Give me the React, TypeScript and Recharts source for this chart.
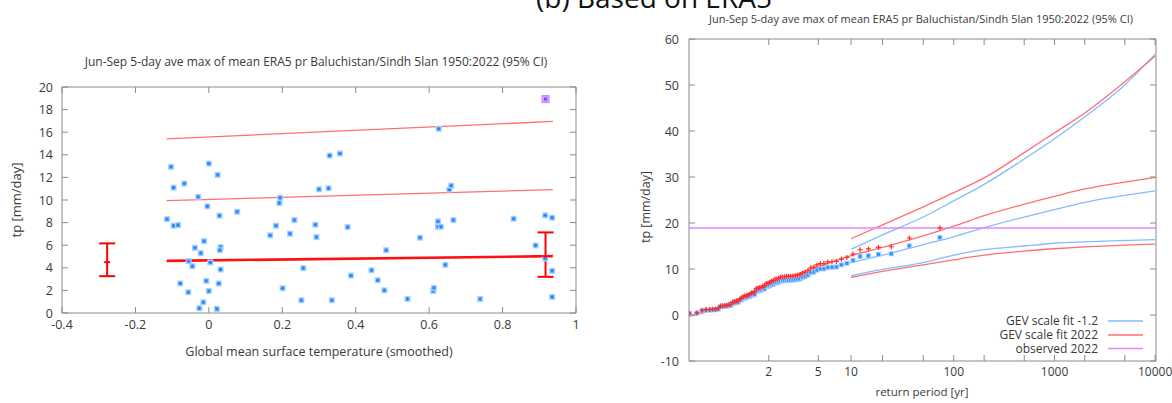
import React from 'react';
import { ComposedChart, Scatter, Line, XAxis, YAxis, ErrorBar, ReferenceLine } from 'recharts';

const FONT = '"Open Sans", "Noto Sans", Arial, sans-serif';
const BORDER = '#8a8a8a';
const INK = '#3a3a3a';

// ---------------- Left panel: covariate plot ----------------
const gmstX = [
  -0.114, -0.103, -0.096, -0.096, -0.084, -0.067, -0.029, 0.0, -0.004, 0.024, 0.029, 0.077,
  -0.013, -0.038, -0.022, 0.032, 0.03, -0.055, -0.045, 0.004, 0.032, -0.078, -0.056, -0.007,
  0.0, 0.027, -0.015, -0.026, 0.022, 0.167, 0.183, 0.194, 0.192, 0.201, 0.221, 0.233,
  0.257, 0.252, 0.29, 0.293, 0.3, 0.326, 0.329, 0.357, 0.335, 0.378, 0.387, 0.443,
  0.46, 0.478, 0.483, 0.541, 0.575, 0.611, 0.613, 0.624, 0.632, 0.624, 0.626, 0.644,
  0.655, 0.66, 0.666, 0.739, 0.83, 0.89, 0.916, 0.916, 0.935, 0.935, 0.935,
];
const prY = [
  8.31, 12.93, 11.09, 7.72, 7.78, 11.45, 10.27, 13.22, 9.44, 12.22, 8.61, 8.96,
  6.36, 5.77, 5.3, 5.83, 5.56, 4.59, 4.14, 4.47, 3.85, 2.61, 1.84, 2.84,
  1.95, 2.61, 0.95, 0.42, 0.36, 6.87, 7.72, 10.2, 9.73, 2.19, 7.01, 8.22,
  3.97, 1.13, 7.81, 6.72, 10.95, 11.04, 13.93, 14.11, 1.13, 7.6, 3.31, 3.79,
  2.9, 2.01, 5.56, 1.24, 6.66, 1.95, 2.22, 7.63, 7.63, 8.11, 16.3, 4.26,
  10.92, 11.27, 8.22, 1.24, 8.34, 5.98, 8.64, 4.83, 8.43, 3.73, 1.42,
];
const obs2022X = [0.917];
const obs2022Y = [18.93];

const fitLineX = [-0.115, 0.937];
const fitMean = [4.61, 5.03];
const fitMid = [9.94, 10.92];
const fitTop = [15.41, 16.95];

const errX = [-0.277, 0.917];
const errMid = [4.5, 5.03];
const errLow = [3.26, 3.2];
const errHigh = [6.16, 7.13];

const leftXTicks = [-0.4, -0.2, 0, 0.2, 0.4, 0.6, 0.8, 1];
const leftYTicks = [0, 2, 4, 6, 8, 10, 12, 14, 16, 18, 20];

// ---------------- Right panel: return period plot ----------------
const obs2022Value = 18.93;
const ppClim2022 = [
  0.39, 0.46, 1.03, 1.19, 1.2, 1.26, 1.28, 1.42, 2.0, 2.01,
  2.09, 2.12, 2.28, 2.34, 2.83, 2.86, 3.02, 3.09, 3.47, 3.73,
  3.96, 4.17, 4.21, 4.37, 4.52, 4.83, 4.85, 5.01, 5.77, 5.78,
  6.0, 6.02, 6.29, 6.31, 6.87, 6.92, 7.11, 7.35, 7.47, 7.83,
  7.84, 7.98, 8.25, 8.26, 8.33, 8.41, 8.41, 8.42, 8.46, 8.52,
  8.64, 8.81, 9.12, 9.33, 9.67, 10.26, 10.39, 10.89, 11.18, 11.18,
  11.54, 11.58, 11.65, 12.15, 12.51, 13.25, 14.18, 14.36, 14.69, 14.84,
  16.74, 18.93,
];
const ppClimCool = [
  0.35, 0.41, 0.93, 1.07, 1.08, 1.13, 1.15, 1.27, 1.8, 1.8,
  1.88, 1.9, 2.05, 2.1, 2.54, 2.56, 2.71, 2.77, 3.12, 3.34,
  3.55, 3.74, 3.78, 3.92, 4.05, 4.34, 4.36, 4.5, 5.18, 5.19,
  5.38, 5.4, 5.64, 5.67, 6.17, 6.21, 6.38, 6.6, 6.7, 7.03,
  7.03, 7.16, 7.4, 7.42, 7.48, 7.55, 7.55, 7.55, 7.59, 7.64,
  7.76, 7.85, 8.19, 8.37, 8.68, 9.21, 9.33, 9.77, 10.04, 10.04,
  10.36, 10.39, 10.45, 10.91, 11.23, 11.89, 12.73, 12.89, 13.19, 13.32,
  15.03, 16.85,
];

const fitT = [1.0136, 1.1, 1.25, 1.5, 2, 3, 5, 10, 20, 50, 100, 200, 500, 1000, 2000, 5000, 10000];
const fit2022Central = [-0.3, 1.3, 2.9, 4.6, 6.6, 8.5, 10.5, 12.9, 14.7, 17.2, 19.3, 21.6, 24.1, 25.8, 27.4, 28.9, 29.9];
const fitCoolCentral = [-0.2, 1.2, 2.6, 4.2, 6.0, 7.7, 9.6, 11.4, 13.0, 15.3, 17.0, 19.0, 21.3, 22.9, 24.5, 26.0, 27.0];

const ciT = [10, 20, 50, 100, 200, 500, 1000, 2000, 5000, 10000];
const fit2022Upper = [16.6, 19.6, 23.5, 26.6, 29.8, 35.3, 39.6, 43.9, 50.7, 56.3];
const fitCoolUpper = [14.3, 17.4, 21.3, 24.8, 28.4, 33.9, 38.3, 43.1, 50.0, 56.7];
const fit2022Lower = [8.2, 9.5, 10.9, 12.0, 13.0, 13.9, 14.4, 14.8, 15.2, 15.4];
const fitCoolLower = [8.55, 9.9, 11.4, 13.0, 14.2, 15.0, 15.6, 15.9, 16.2, 16.4];

const rpTicks = [2, 5, 10, 20, 50, 100, 200, 500, 1000, 2000, 5000, 10000];
const rpLabeled = [2, 5, 10, 100, 1000, 10000];
const rightYTicks = [-10, 0, 10, 20, 30, 40, 50, 60];

const legendLabels = ['GEV scale fit -1.2', 'GEV scale fit 2022', 'observed 2022'];

// ---------------- colours ----------------
const BLUE_PT = '#2f8fff';
const BLUE_LINE = '#84bcff';
const RED_PT = '#ff2a2a';
const RED_LINE = '#ff6f6f';
const MAGENTA = '#e486ff';
const legendColors = [BLUE_LINE, RED_LINE, MAGENTA];

// Gumbel reduced variate (x axis of a return-period plot)
const gumbel = (T: number) => -Math.log(-Math.log(1 - 1 / T));

// ---------------- derived tables ----------------
const leftPoints = gmstX.map((x, i) => ({ x, y: prY[i] }));
const leftObs2022 = obs2022X.map((x, i) => ({ x, y: obs2022Y[i] }));
const meanLine = fitLineX.map((x, i) => ({ x, y: fitMean[i] }));
const midLine = fitLineX.map((x, i) => ({ x, y: fitMid[i] }));
const topLine = fitLineX.map((x, i) => ({ x, y: fitTop[i] }));
const errData = errX.map((x, i) => ({ x, y: errMid[i], err: [errMid[i] - errLow[i], errHigh[i] - errMid[i]] }));

const nObs = ppClim2022.length;
const redPts = ppClim2022.map((v, i) => ({ g: gumbel((nObs + 1) / (nObs - i)), v }));
const bluePts = ppClimCool.map((v, i) => ({ g: gumbel((nObs + 1) / (nObs - i)), v }));
const toLine = (ts: number[], vs: number[]) => ts.map((t, i) => ({ g: gumbel(t), v: vs[i] }));
const redCentral = toLine(fitT, fit2022Central);
const blueCentral = toLine(fitT, fitCoolCentral);
const redUpper = toLine(ciT, fit2022Upper);
const blueUpper = toLine(ciT, fitCoolUpper);
const redLower = toLine(ciT, fit2022Lower);
const blueLower = toLine(ciT, fitCoolLower);
const rpTickValues = rpTicks.map(gumbel);

// ---------------- tick renderer (inward gnuplot-style ticks) ----------------
type Side = 'bottom' | 'top' | 'left' | 'right';
const makeTick = (side: Side, len: number, label: ((v: number, i: number) => string) | null, fontSize = 12, gap = 8) =>
  (props: any) => {
    const { x, y, payload, index } = props;
    const v = payload.value;
    let x2 = x, y2 = y;
    if (side === 'bottom') y2 = y - len;
    if (side === 'top') y2 = y + len;
    if (side === 'left') x2 = x + len;
    if (side === 'right') x2 = x - len;
    const txt = label ? label(v, index) : '';
    return (
      <g>
        <line x1={x} y1={y} x2={x2} y2={y2} stroke={BORDER} strokeWidth={1} />
        {txt !== '' && side === 'bottom' && (
          <text x={x} y={y + gap + fontSize * 0.72} textAnchor="middle" fontSize={fontSize} fontFamily={FONT} fill={INK}>{txt}</text>
        )}
        {txt !== '' && side === 'left' && (
          <text x={x - gap} y={y + fontSize * 0.36} textAnchor="end" fontSize={fontSize} fontFamily={FONT} fill={INK}>{txt}</text>
        )}
      </g>
    );
  };

const fmtLeftX = (v: number) => (Math.abs(v) < 1e-9 ? '0' : String(Math.round(v * 10) / 10));
const fmtNum = (v: number) => String(v);
const fmtRp = (_v: number, i: number) => (rpLabeled.includes(rpTicks[i]) ? String(rpTicks[i]) : '');

// ---------------- marker shapes ----------------
const BlueStar = (p: any) => {
  const { cx, cy } = p;
  if (cx == null || cy == null) return null;
  return (
    <g>
      <rect x={cx - 3} y={cy - 3} width={6} height={6} fill="#a9d3ff" />
      <path d={`M${cx - 2},${cy} h4 M${cx},${cy - 2} v4 M${cx - 1.5},${cy - 1.5} l3,3 M${cx + 1.5},${cy - 1.5} l-3,3`} stroke="#1f7fff" strokeWidth={1} />
    </g>
  );
};
const PurpleSquare = (p: any) => {
  const { cx, cy } = p;
  if (cx == null || cy == null) return null;
  return (
    <g>
      <rect x={cx - 3.5} y={cy - 3.5} width={7} height={7} fill="#c8a8ff" stroke="#dd77ff" strokeWidth={1} />
      <rect x={cx - 1.5} y={cy - 1.5} width={3} height={3} fill="#7a4dff" />
    </g>
  );
};
const ErrCenter = (p: any) => {
  const { cx, cy } = p;
  if (cx == null || cy == null) return null;
  return <path d={`M${cx - 3},${cy} h6`} stroke="#ff0000" strokeWidth={2} />;
};
const RedPlus = (p: any) => {
  const { cx, cy } = p;
  if (cx == null || cy == null) return null;
  return <path d={`M${cx - 2.5},${cy} h5 M${cx},${cy - 2.5} v5`} stroke={RED_PT} strokeWidth={1.2} />;
};
const BlueSq = (p: any) => {
  const { cx, cy } = p;
  if (cx == null || cy == null) return null;
  return (
    <g>
      <rect x={cx - 2.5} y={cy - 2.5} width={5} height={5} fill="#9ccbff" />
      <rect x={cx - 1.5} y={cy - 1.5} width={3} height={3} fill={BLUE_PT} />
    </g>
  );
};

function LeftChart() {
  return (
    <ComposedChart width={600} height={403} margin={{ top: 86, right: 23, bottom: 60, left: 22 }}>
      <XAxis xAxisId="b" dataKey="x" type="number" domain={[-0.4, 1]} ticks={leftXTicks} interval={0}
        allowDataOverflow height={30} tickSize={0} tickMargin={0} stroke={BORDER}
        tick={makeTick('bottom', 6, fmtLeftX, 12.5, 7)} />
      <XAxis xAxisId="t" orientation="top" dataKey="x" type="number" domain={[-0.4, 1]} ticks={leftXTicks} interval={0}
        allowDataOverflow height={1} tickSize={0} tickMargin={0} stroke={BORDER}
        tick={makeTick('top', 6, null)} />
      <YAxis yAxisId="l" type="number" domain={[0, 20]} ticks={leftYTicks} interval={0} width={40}
        allowDataOverflow tickSize={0} tickMargin={0} stroke={BORDER}
        tick={makeTick('left', 6, fmtNum, 12.5, 9)} />
      <YAxis yAxisId="r" orientation="right" type="number" domain={[0, 20]} ticks={leftYTicks} interval={0} width={1}
        allowDataOverflow tickSize={0} tickMargin={0} stroke={BORDER}
        tick={makeTick('right', 6, null)} />
      <Line xAxisId="b" yAxisId="l" data={topLine} dataKey="y" stroke={RED_LINE} strokeWidth={1.3} dot={false} isAnimationActive={false} />
      <Line xAxisId="b" yAxisId="l" data={midLine} dataKey="y" stroke={RED_LINE} strokeWidth={1.3} dot={false} isAnimationActive={false} />
      <Line xAxisId="b" yAxisId="l" data={meanLine} dataKey="y" stroke="#ff1010" strokeWidth={2.6} dot={false} isAnimationActive={false} />
      <Scatter xAxisId="b" yAxisId="l" data={leftPoints} dataKey="y" shape={BlueStar} isAnimationActive={false} />
      <Scatter xAxisId="b" yAxisId="l" data={leftObs2022} dataKey="y" shape={PurpleSquare} isAnimationActive={false} />
      <Scatter xAxisId="b" yAxisId="l" data={errData} dataKey="y" shape={ErrCenter} isAnimationActive={false}>
        <ErrorBar dataKey="err" direction="y" width={8} stroke="#ff0000" strokeWidth={2} isAnimationActive={false} />
      </Scatter>
    </ComposedChart>
  );
}

function RightChart() {
  const gDomain = [-1.46, 9.23];
  return (
    <ComposedChart width={572} height={403} margin={{ top: 38, right: 15, bottom: 12, left: 39 }}>
      <XAxis xAxisId="b" dataKey="g" type="number" domain={gDomain} ticks={rpTickValues} interval={0}
        allowDataOverflow height={30} tickSize={0} tickMargin={0} stroke={BORDER}
        tick={makeTick('bottom', 6, fmtRp, 12, 6)} />
      <XAxis xAxisId="t" orientation="top" dataKey="g" type="number" domain={gDomain} ticks={rpTickValues} interval={0}
        allowDataOverflow height={1} tickSize={0} tickMargin={0} stroke={BORDER}
        tick={makeTick('top', 6, null)} />
      <YAxis yAxisId="l" type="number" domain={[-10, 60]} ticks={rightYTicks} interval={0} width={50}
        allowDataOverflow tickSize={0} tickMargin={0} stroke={BORDER}
        tick={makeTick('left', 6, fmtNum, 12.5, 10)} />
      <YAxis yAxisId="r" orientation="right" type="number" domain={[-10, 60]} ticks={rightYTicks} interval={0} width={1}
        allowDataOverflow tickSize={0} tickMargin={0} stroke={BORDER}
        tick={makeTick('right', 6, null)} />
      <Line xAxisId="b" yAxisId="l" data={blueCentral} dataKey="v" stroke={BLUE_LINE} strokeWidth={1.3} dot={false} isAnimationActive={false} type="monotone" />
      <Line xAxisId="b" yAxisId="l" data={blueUpper} dataKey="v" stroke={BLUE_LINE} strokeWidth={1.3} dot={false} isAnimationActive={false} type="monotone" />
      <Line xAxisId="b" yAxisId="l" data={blueLower} dataKey="v" stroke={BLUE_LINE} strokeWidth={1.3} dot={false} isAnimationActive={false} type="monotone" />
      <Line xAxisId="b" yAxisId="l" data={redCentral} dataKey="v" stroke={RED_LINE} strokeWidth={1.3} dot={false} isAnimationActive={false} type="monotone" />
      <Line xAxisId="b" yAxisId="l" data={redUpper} dataKey="v" stroke={RED_LINE} strokeWidth={1.3} dot={false} isAnimationActive={false} type="monotone" />
      <Line xAxisId="b" yAxisId="l" data={redLower} dataKey="v" stroke={RED_LINE} strokeWidth={1.3} dot={false} isAnimationActive={false} type="monotone" />
      <ReferenceLine xAxisId="b" yAxisId="l" y={obs2022Value} stroke={MAGENTA} strokeWidth={1.5} />
      <Scatter xAxisId="b" yAxisId="l" data={bluePts} dataKey="v" shape={BlueSq} isAnimationActive={false} />
      <Scatter xAxisId="b" yAxisId="l" data={redPts} dataKey="v" shape={RedPlus} isAnimationActive={false} />
    </ComposedChart>
  );
}

function Overlay() {
  const t = { fontFamily: FONT, fill: INK } as any;
  return (
    <svg width={1172} height={403} style={{ position: 'absolute', left: 0, top: 0, pointerEvents: 'none' }}>
      <text x={654} y={8} textAnchor="middle" fontSize={28} fontFamily={FONT} fill="#111">(b) Based on ERA5</text>
      <text x={316} y={66} textAnchor="middle" fontSize={12} {...t}>Jun-Sep 5-day ave max of mean ERA5 pr Baluchistan/Sindh 5lan 1950:2022 (95% CI)</text>
      <text transform="translate(21,200) rotate(-90)" textAnchor="middle" fontSize={13} {...t}>tp [mm/day]</text>
      <text x={319} y={356} textAnchor="middle" fontSize={12.5} {...t}>Global mean surface temperature (smoothed)</text>
      <text x={921} y={23} textAnchor="middle" fontSize={11} {...t}>Jun-Sep 5-day ave max of mean ERA5 pr Baluchistan/Sindh 5lan 1950:2022 (95% CI)</text>
      <text transform="translate(650,207) rotate(-90)" textAnchor="middle" fontSize={12.5} {...t}>tp [mm/day]</text>
      <text x={922} y={396} textAnchor="middle" fontSize={11.5} {...t}>return period [yr]</text>
      {legendLabels.map((lab, i) => {
        const yy = [321, 335, 348.5][i];
        return (
          <g key={lab}>
            <text x={1098} y={yy + 4.3} textAnchor="end" fontSize={12} {...t}>{lab}</text>
            <line x1={1108} x2={1143} y1={yy} y2={yy} stroke={legendColors[i]} strokeWidth={1.5} />
          </g>
        );
      })}
    </svg>
  );
}

export default function App() {
  return (
    <div style={{ position: 'absolute', left: 0, top: 0, width: 1172, height: 403, background: '#fff', overflow: 'hidden' }}>
      <div style={{ position: 'absolute', left: 0, top: 0 }}>
        <LeftChart />
      </div>
      <div style={{ position: 'absolute', left: 600, top: 0 }}>
        <RightChart />
      </div>
      <Overlay />
    </div>
  );
}
